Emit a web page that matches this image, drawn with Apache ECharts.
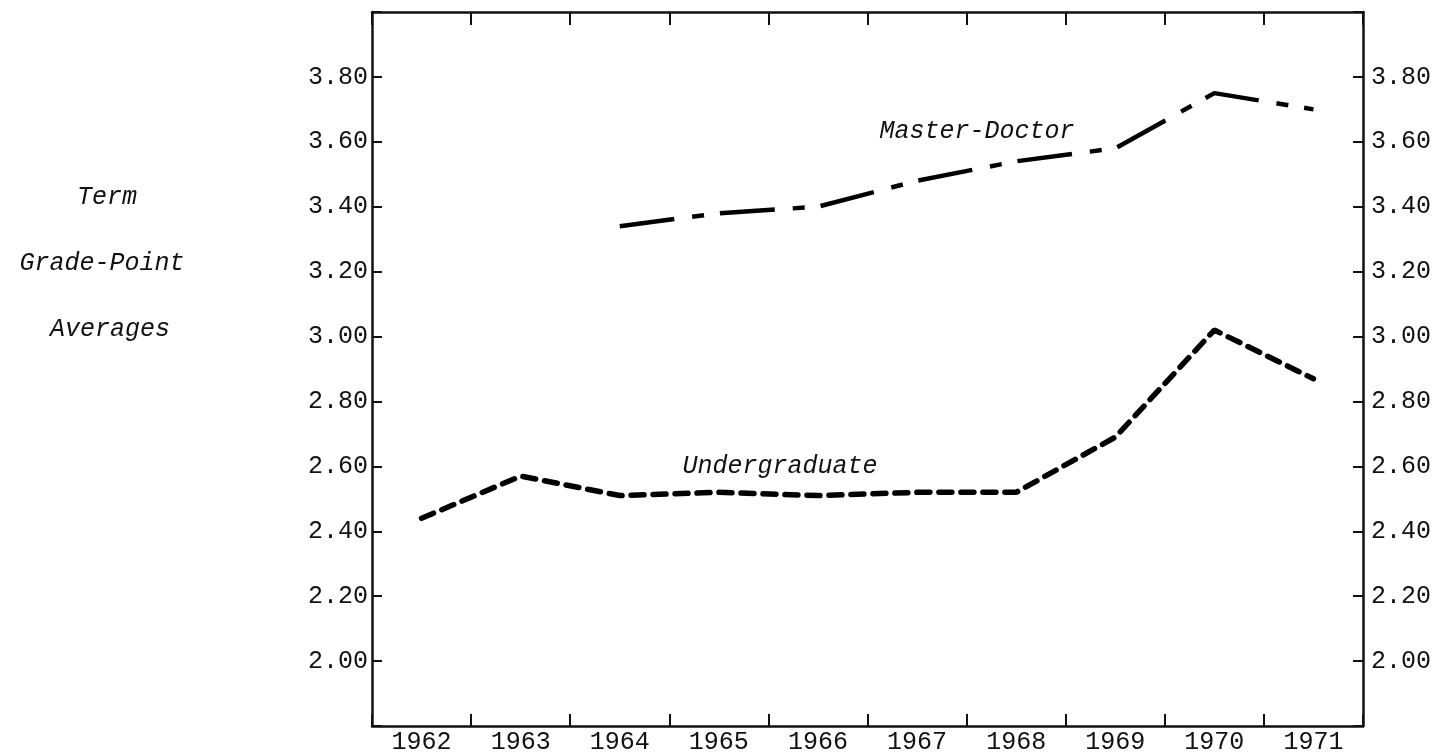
<!DOCTYPE html>
<html>
<head>
<meta charset="utf-8">
<script src="https://cdn.jsdelivr.net/npm/echarts@6/dist/echarts.min.js"></script>
<style>
  html, body { margin: 0; padding: 0; background: #fff; }
  #root { width: 1449px; height: 756px; }
</style>
</head>
<body>
<div id="root"></div>
<script>
// data
const years = ['1962', '1963', '1964', '1965', '1966', '1967', '1968', '1969', '1970', '1971'];
const undergraduate = [2.44, 2.57, 2.51, 2.52, 2.51, 2.52, 2.52, 2.69, 3.02, 2.87];
const masterDoctor = [null, null, 3.34, 3.38, 3.40, 3.48, 3.54, 3.58, 3.75, 3.70];
const yTicks = [2.00, 2.20, 2.40, 2.60, 2.80, 3.00, 3.20, 3.40, 3.60, 3.80];
const sideTitle = ['Term', 'Grade-Point', 'Averages'];

const FONT = "'Liberation Mono', 'DejaVu Sans Mono', monospace";
const INK = '#111';

const chart = echarts.init(document.getElementById('root'));

// only label the printed ticks, leave the frame corners blank
const tickLabel = v => {
  const hit = yTicks.find(t => Math.abs(t - v) < 0.001);
  return hit === undefined ? '' : hit.toFixed(2);
};

const yAxisBase = {
  type: 'value',
  min: 1.8,
  max: 4.0,
  interval: 0.2,
  splitLine: { show: false },
  axisLine: { show: true, lineStyle: { color: INK, width: 2.5 } },
  axisTick: { show: true, inside: true, length: 10, lineStyle: { color: INK, width: 2 } },
  axisLabel: { formatter: tickLabel, fontFamily: FONT, fontSize: 25, color: INK }
};

const xAxisBase = {
  type: 'category',
  data: years,
  boundaryGap: true,
  axisLine: { show: true, lineStyle: { color: INK, width: 2.5 } },
  axisTick: { show: true, inside: true, length: 12, lineStyle: { color: INK, width: 2 } },
  splitLine: { show: false }
};

const sideText = sideTitle.map((t, i) => ({
  type: 'text',
  x: [107, 102, 110][i],
  y: 197 + i * 66,
  style: {
    text: t, fontFamily: FONT, fontStyle: 'italic', fontSize: 25, fill: INK,
    align: 'center', verticalAlign: 'middle'
  }
}));

const option = {
  backgroundColor: '#fff',
  animation: false,
  grid: { left: 372, right: 86, top: 12, bottom: 30 },
  xAxis: [
    Object.assign({}, xAxisBase, {
      position: 'bottom',
      axisLabel: { fontFamily: FONT, fontSize: 25, color: INK, margin: 4 }
    }),
    Object.assign({}, xAxisBase, {
      position: 'top',
      axisTick: { show: true, inside: true, length: 13, lineStyle: { color: INK, width: 2 } },
      axisLabel: { show: false }
    })
  ],
  yAxis: [
    Object.assign({}, yAxisBase, { position: 'left', axisLabel: Object.assign({}, yAxisBase.axisLabel, { margin: 4 }) }),
    Object.assign({}, yAxisBase, { position: 'right', axisLabel: Object.assign({}, yAxisBase.axisLabel, { margin: 8 }) })
  ],
  graphic: sideText.concat([
    {
      type: 'text', x: 977, y: 131,
      style: { text: 'Master-Doctor', fontFamily: FONT, fontStyle: 'italic', fontSize: 25, fill: INK, align: 'center', verticalAlign: 'middle' }
    },
    {
      type: 'text', x: 780, y: 466,
      style: { text: 'Undergraduate', fontFamily: FONT, fontStyle: 'italic', fontSize: 25, fill: INK, align: 'center', verticalAlign: 'middle' }
    }
  ]),
  series: [
    {
      name: 'Undergraduate',
      type: 'line',
      data: undergraduate,
      symbol: 'none',
      lineStyle: { color: '#000', width: 5.5, type: [13, 9], cap: 'round' }
    },
    {
      name: 'Master-Doctor',
      type: 'line',
      data: masterDoctor,
      symbol: 'none',
      lineStyle: { color: '#000', width: 4.5, type: [55, 18, 12, 16] }
    }
  ]
};

chart.setOption(option);
</script>
</body>
</html>
